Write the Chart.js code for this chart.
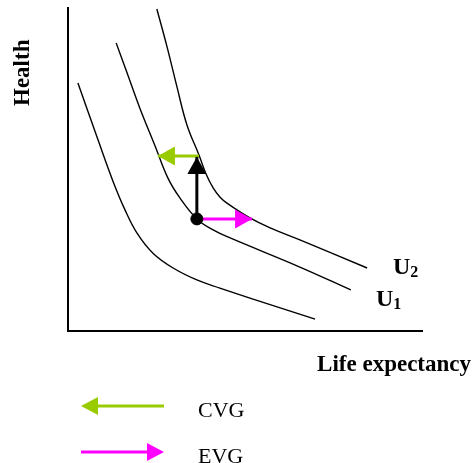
<!DOCTYPE html>
<html>
<head>
<meta charset="utf-8">
<title>CVG / EVG</title>
<script src="https://cdn.jsdelivr.net/npm/chart.js@4/dist/chart.umd.min.js"></script>
<style>
  body { margin: 0; background: #fff; }
  #wrap { position: relative; width: 473px; height: 463px; }
  #key { position: absolute; left: 0; top: 385px; }
</style>
</head>
<body>
<div id="wrap">
  <canvas id="chart" width="473" height="463"></canvas>
  <svg id="key" width="473" height="78"></svg>
</div>
<script>
// indifference curves, x = life expectancy, y = health (0-100, arbitrary units)
const lowX = [2.8, 8.5, 12.7, 16.1, 19.5, 24.0, 29.7, 36.4, 42.9, 51.4, 69.8];
const lowY = [76.8, 59.1, 46.4, 37.5, 30.3, 24.1, 19.5, 15.8, 13.3, 10.2, 3.7];

const u1X = [13.6, 16.7, 20.3, 24.6, 28.2, 31.6, 36.4, 41.0, 45.8, 65.5, 79.9];
const u1Y = [89.2, 79.9, 69.0, 57.3, 47.4, 41.2, 34.7, 31.3, 28.8, 19.8, 12.7];

const u2X = [25.1, 28.0, 30.8, 33.6, 37.0, 39.0, 41.0, 42.9, 44.9, 51.4, 57.1, 65.5, 84.5];
const u2Y = [99.7, 87.9, 75.5, 63.8, 54.5, 48.6, 44.3, 41.5, 39.6, 35.0, 31.9, 28.2, 19.5];

// starting bundle and the moves from it
const start = { x: 36.4, y: 34.7 };
const upTo = { x: 36.4, y: 53.9 };    // more health, reaching U2
const cvgFrom = { x: 37.0, y: 54.2 };
const cvgTo = { x: 25.4, y: 54.2 };   // back to U1
const evgTo = { x: 52.0, y: 34.7 };   // forward to U2

const curveLabels = [
  { text: 'U', sub: '1', x: 87.0, y: 7.7 },
  { text: 'U', sub: '2', x: 91.8, y: 17.6 }
];

const green = '#99cc00';
const magenta = '#ff00ff';
const serif = '"Liberation Serif", "Times New Roman", serif';

const pts = (xs, ys) => xs.map((x, i) => ({ x: x, y: ys[i] }));

const curve = (data) => ({
  data: data,
  borderColor: '#000',
  borderWidth: 1.4,
  pointRadius: 0,
  tension: 0.4
});

const arrow = (from, to, color) => ({
  data: [from, to],
  borderColor: color,
  borderWidth: 3,
  pointRadius: 0,
  head: { len: 17, w: 19 }
});

// draws a filled triangle at the last point of any dataset with a "head"
const arrowHeads = {
  id: 'arrowHeads',
  afterDatasetsDraw(chart) {
    const ctx = chart.ctx;
    chart.data.datasets.forEach((ds, i) => {
      if (!ds.head) return;
      const p = chart.getDatasetMeta(i).data;
      const a = p[p.length - 2], b = p[p.length - 1];
      ctx.save();
      ctx.translate(b.x, b.y);
      ctx.rotate(Math.atan2(b.y - a.y, b.x - a.x));
      ctx.beginPath();
      ctx.moveTo(0, 0);
      ctx.lineTo(-ds.head.len, -ds.head.w / 2);
      ctx.lineTo(-ds.head.len, ds.head.w / 2);
      ctx.closePath();
      ctx.fillStyle = ds.borderColor;
      ctx.fill();
      ctx.restore();
    });
  }
};

// axis titles and curve names
const diagramText = {
  id: 'diagramText',
  afterDraw(chart) {
    const { ctx, chartArea: area, scales } = chart;
    ctx.save();
    ctx.fillStyle = '#000';
    ctx.textBaseline = 'alphabetic';
    ctx.font = 'bold 23px ' + serif;
    ctx.textAlign = 'right';
    ctx.fillText('Life expectancy', area.right + 49, area.bottom + 40);

    curveLabels.forEach(l => {
      const px = scales.x.getPixelForValue(l.x);
      const py = scales.y.getPixelForValue(l.y);
      ctx.textAlign = 'left';
      ctx.font = 'bold 24px ' + serif;
      ctx.fillText(l.text, px, py);
      const w = ctx.measureText(l.text).width;
      ctx.font = 'bold 16px ' + serif;
      ctx.fillText(l.sub, px + w, py + 3);
    });

    ctx.translate(area.left - 39, area.top + 98);
    ctx.rotate(-Math.PI / 2);
    ctx.textAlign = 'left';
    ctx.font = 'bold 23px ' + serif;
    ctx.fillText('Health', 0, 0);
    ctx.restore();
  }
};

new Chart(document.getElementById('chart'), {
  type: 'line',
  data: {
    datasets: [
      { data: [start], borderColor: '#000', backgroundColor: '#000', pointRadius: 6, showLine: false },
      arrow(start, upTo, '#000'),
      arrow(cvgFrom, cvgTo, green),
      arrow(start, evgTo, magenta),
      curve(pts(lowX, lowY)),
      curve(pts(u1X, u1Y)),
      curve(pts(u2X, u2Y))
    ]
  },
  options: {
    responsive: false,
    animation: false,
    layout: { padding: { left: 68, right: 51, top: 8, bottom: 132 } },
    plugins: { legend: { display: false }, tooltip: { enabled: false } },
    scales: {
      x: {
        type: 'linear', min: 0, max: 100,
        grid: { display: false, drawTicks: false }, ticks: { display: false },
        border: { color: '#000', width: 2 }
      },
      y: {
        type: 'linear', min: 0, max: 100,
        grid: { display: false, drawTicks: false }, ticks: { display: false },
        border: { color: '#000', width: 2 }
      }
    }
  },
  plugins: [arrowHeads, diagramText]
});

// key below the chart
const keyItems = [
  { label: 'CVG', color: green, dir: -1, y: 21 },
  { label: 'EVG', color: magenta, dir: 1, y: 67 }
];
const svgNS = 'http://www.w3.org/2000/svg';
const key = document.getElementById('key');
keyItems.forEach(k => {
  const x0 = 81, x1 = 164, len = 17, w = 18;
  const tip = k.dir < 0 ? x0 : x1;
  const base = tip - k.dir * len;
  const line = document.createElementNS(svgNS, 'line');
  line.setAttribute('x1', k.dir < 0 ? base : x0);
  line.setAttribute('x2', k.dir < 0 ? x1 : base);
  line.setAttribute('y1', k.y);
  line.setAttribute('y2', k.y);
  line.setAttribute('stroke', k.color);
  line.setAttribute('stroke-width', 3);
  key.appendChild(line);
  const head = document.createElementNS(svgNS, 'polygon');
  head.setAttribute('points', tip + ',' + k.y + ' ' + base + ',' + (k.y - w / 2) + ' ' + base + ',' + (k.y + w / 2));
  head.setAttribute('fill', k.color);
  key.appendChild(head);
  const t = document.createElementNS(svgNS, 'text');
  t.setAttribute('x', 198);
  t.setAttribute('y', k.y + 11);
  t.setAttribute('font-family', serif);
  t.setAttribute('font-size', 22);
  t.textContent = k.label;
  key.appendChild(t);
});
</script>
</body>
</html>
